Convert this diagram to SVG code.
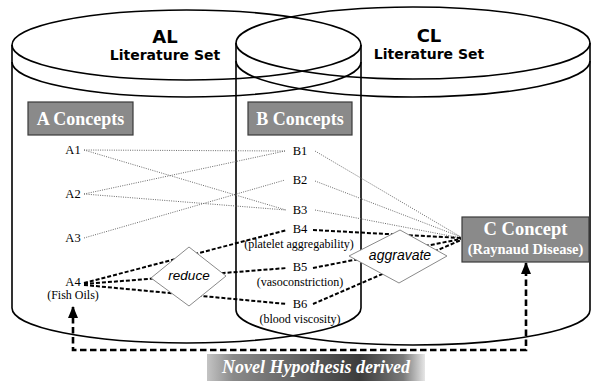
<svg xmlns="http://www.w3.org/2000/svg" width="592" height="381" viewBox="0 0 592 381">
<style>
.cyl{fill:none;stroke:#000;stroke-width:1.6}
.title{font-family:"DejaVu Sans",Verdana,sans-serif;font-weight:bold;fill:#000;text-anchor:middle}
.box{fill:#8a8a8a;stroke:#3a3a3a;stroke-width:1.2}
.boxt{font-family:"Liberation Serif","Times New Roman",serif;font-weight:bold;fill:#fff;text-anchor:middle}
.lbl{font-family:"Liberation Serif","Times New Roman",serif;font-size:12.5px;fill:#000;text-anchor:middle}
.sub{font-family:"Liberation Serif","Times New Roman",serif;font-size:12px;fill:#000;text-anchor:middle}
.dot{stroke:#6a6a6a;stroke-width:1;stroke-dasharray:1 1.3;fill:none}
.dash{stroke:#000;stroke-width:2;stroke-dasharray:4 2;fill:none}
.dia{fill:#fff;stroke:#8a8a8a;stroke-width:1}
.rel{font-family:"Liberation Sans",Arial,sans-serif;font-style:italic;fill:#000;text-anchor:middle}
</style>
<defs>
<linearGradient id="banner" x1="0" y1="0" x2="1" y2="0">
<stop offset="0" stop-color="#c4c4c4"/>
<stop offset="0.12" stop-color="#8a8a8a"/>
<stop offset="0.7" stop-color="#3c3c3c"/>
<stop offset="0.9" stop-color="#7a7a7a"/>
<stop offset="1" stop-color="#e6e6e6"/>
</linearGradient>
<marker id="ah" viewBox="0 0 12 10" refX="11" refY="5" markerWidth="12" markerHeight="10" markerUnits="userSpaceOnUse" orient="auto-start-reverse">
<path d="M0,0 L12,5 L0,10 Z" fill="#000"/>
</marker>
</defs>
<g id="AL">
<ellipse class="cyl" cx="186.5" cy="45" rx="174.5" ry="35"/>
<path class="cyl" d="M12,62 A174.5,35 0 0 0 361,62"/>
<path class="cyl" d="M12,45 V308 A174.5,35 0 0 0 361,308 V45"/>
<text class="title" x="165" y="43" font-size="18">AL</text>
<text class="title" x="165" y="60" font-size="14">Literature Set</text>
</g>
<g id="CL">
<ellipse class="cyl" cx="413" cy="43" rx="177" ry="36"/>
<path class="cyl" d="M236,61 A177,36 0 0 0 590,61"/>
<path class="cyl" d="M236,43 V310 A177,35 0 0 0 590,310 V43"/>
<text class="title" x="429" y="42" font-size="18">CL</text>
<text class="title" x="429" y="59" font-size="14">Literature Set</text>
</g>
<g id="connectors">
<line class="dot" x1="84" y1="150" x2="285" y2="151"/>
<line class="dot" x1="84" y1="150" x2="286" y2="210"/>
<line class="dot" x1="84" y1="194" x2="285" y2="151"/>
<line class="dot" x1="84" y1="194" x2="286" y2="210"/>
<line class="dot" x1="84" y1="238" x2="285" y2="180"/>
<line class="dot" x1="315" y1="151" x2="461" y2="237"/>
<line class="dot" x1="315" y1="181" x2="461" y2="237"/>
<line class="dot" x1="315" y1="210" x2="461" y2="238"/>
<line class="dash" x1="84" y1="283" x2="287" y2="230"/>
<line class="dash" x1="84" y1="284" x2="287" y2="268"/>
<line class="dash" x1="84" y1="285" x2="287" y2="304"/>
<line class="dash" x1="313" y1="230" x2="461" y2="238"/>
<line class="dash" x1="313" y1="268" x2="461" y2="239"/>
<line class="dash" x1="313" y1="304" x2="461" y2="240"/>
<path d="M73,307 V350 H526 V263" fill="none" stroke="#000" stroke-width="2.6" stroke-dasharray="6.5 3.5" marker-start="url(#ah)" marker-end="url(#ah)"/>
</g>
<g id="reduce">
<polygon class="dia" points="189,247 226,276 189,306 151,278"/>
<text class="rel" x="189" y="280" font-size="13.5">reduce</text>
</g>
<g id="aggravate">
<polygon class="dia" points="400,230 447,256 399,283 349,256"/>
<text class="rel" x="400" y="260" font-size="14">aggravate</text>
</g>
<g id="Aconcepts">
<rect class="box" x="28" y="102" width="105" height="33"/>
<text class="boxt" x="80.5" y="125" font-size="18">A Concepts</text>
</g>
<g id="Bconcepts">
<rect class="box" x="248" y="102" width="104" height="33"/>
<text class="boxt" x="300" y="125" font-size="18">B Concepts</text>
</g>
<g id="Cconcept">
<rect class="box" x="462" y="217" width="127" height="45"/>
<text class="boxt" x="525.5" y="235" font-size="18.5">C Concept</text>
<text class="boxt" x="525.5" y="254" font-size="14.5">(Raynaud Disease)</text>
</g>
<g id="A1"><text class="lbl" x="73" y="154">A1</text></g>
<g id="A2"><text class="lbl" x="73" y="198">A2</text></g>
<g id="A3"><text class="lbl" x="73" y="242">A3</text></g>
<g id="A4"><text class="lbl" x="73" y="286">A4</text><text class="sub" x="73" y="299">(Fish Oils)</text></g>
<g id="B1"><text class="lbl" x="300" y="155">B1</text></g>
<g id="B2"><text class="lbl" x="300" y="184">B2</text></g>
<g id="B3"><text class="lbl" x="300" y="214">B3</text></g>
<g id="B4"><text class="lbl" x="300" y="233">B4</text><text class="sub" x="299" y="247.5">(platelet aggregability)</text></g>
<g id="B5"><text class="lbl" x="300" y="271">B5</text><text class="sub" x="300" y="285.5">(vasoconstriction)</text></g>
<g id="B6"><text class="lbl" x="300" y="308">B6</text><text class="sub" x="300" y="322.5">(blood viscosity)</text></g>
<g id="hypothesis">
<rect x="207" y="354" width="218" height="27" fill="url(#banner)"/>
<text x="316" y="373" font-family="'Liberation Serif','Times New Roman',serif" font-size="18" font-weight="bold" font-style="italic" fill="#fff" text-anchor="middle">Novel Hypothesis derived</text>
</g>
</svg>
